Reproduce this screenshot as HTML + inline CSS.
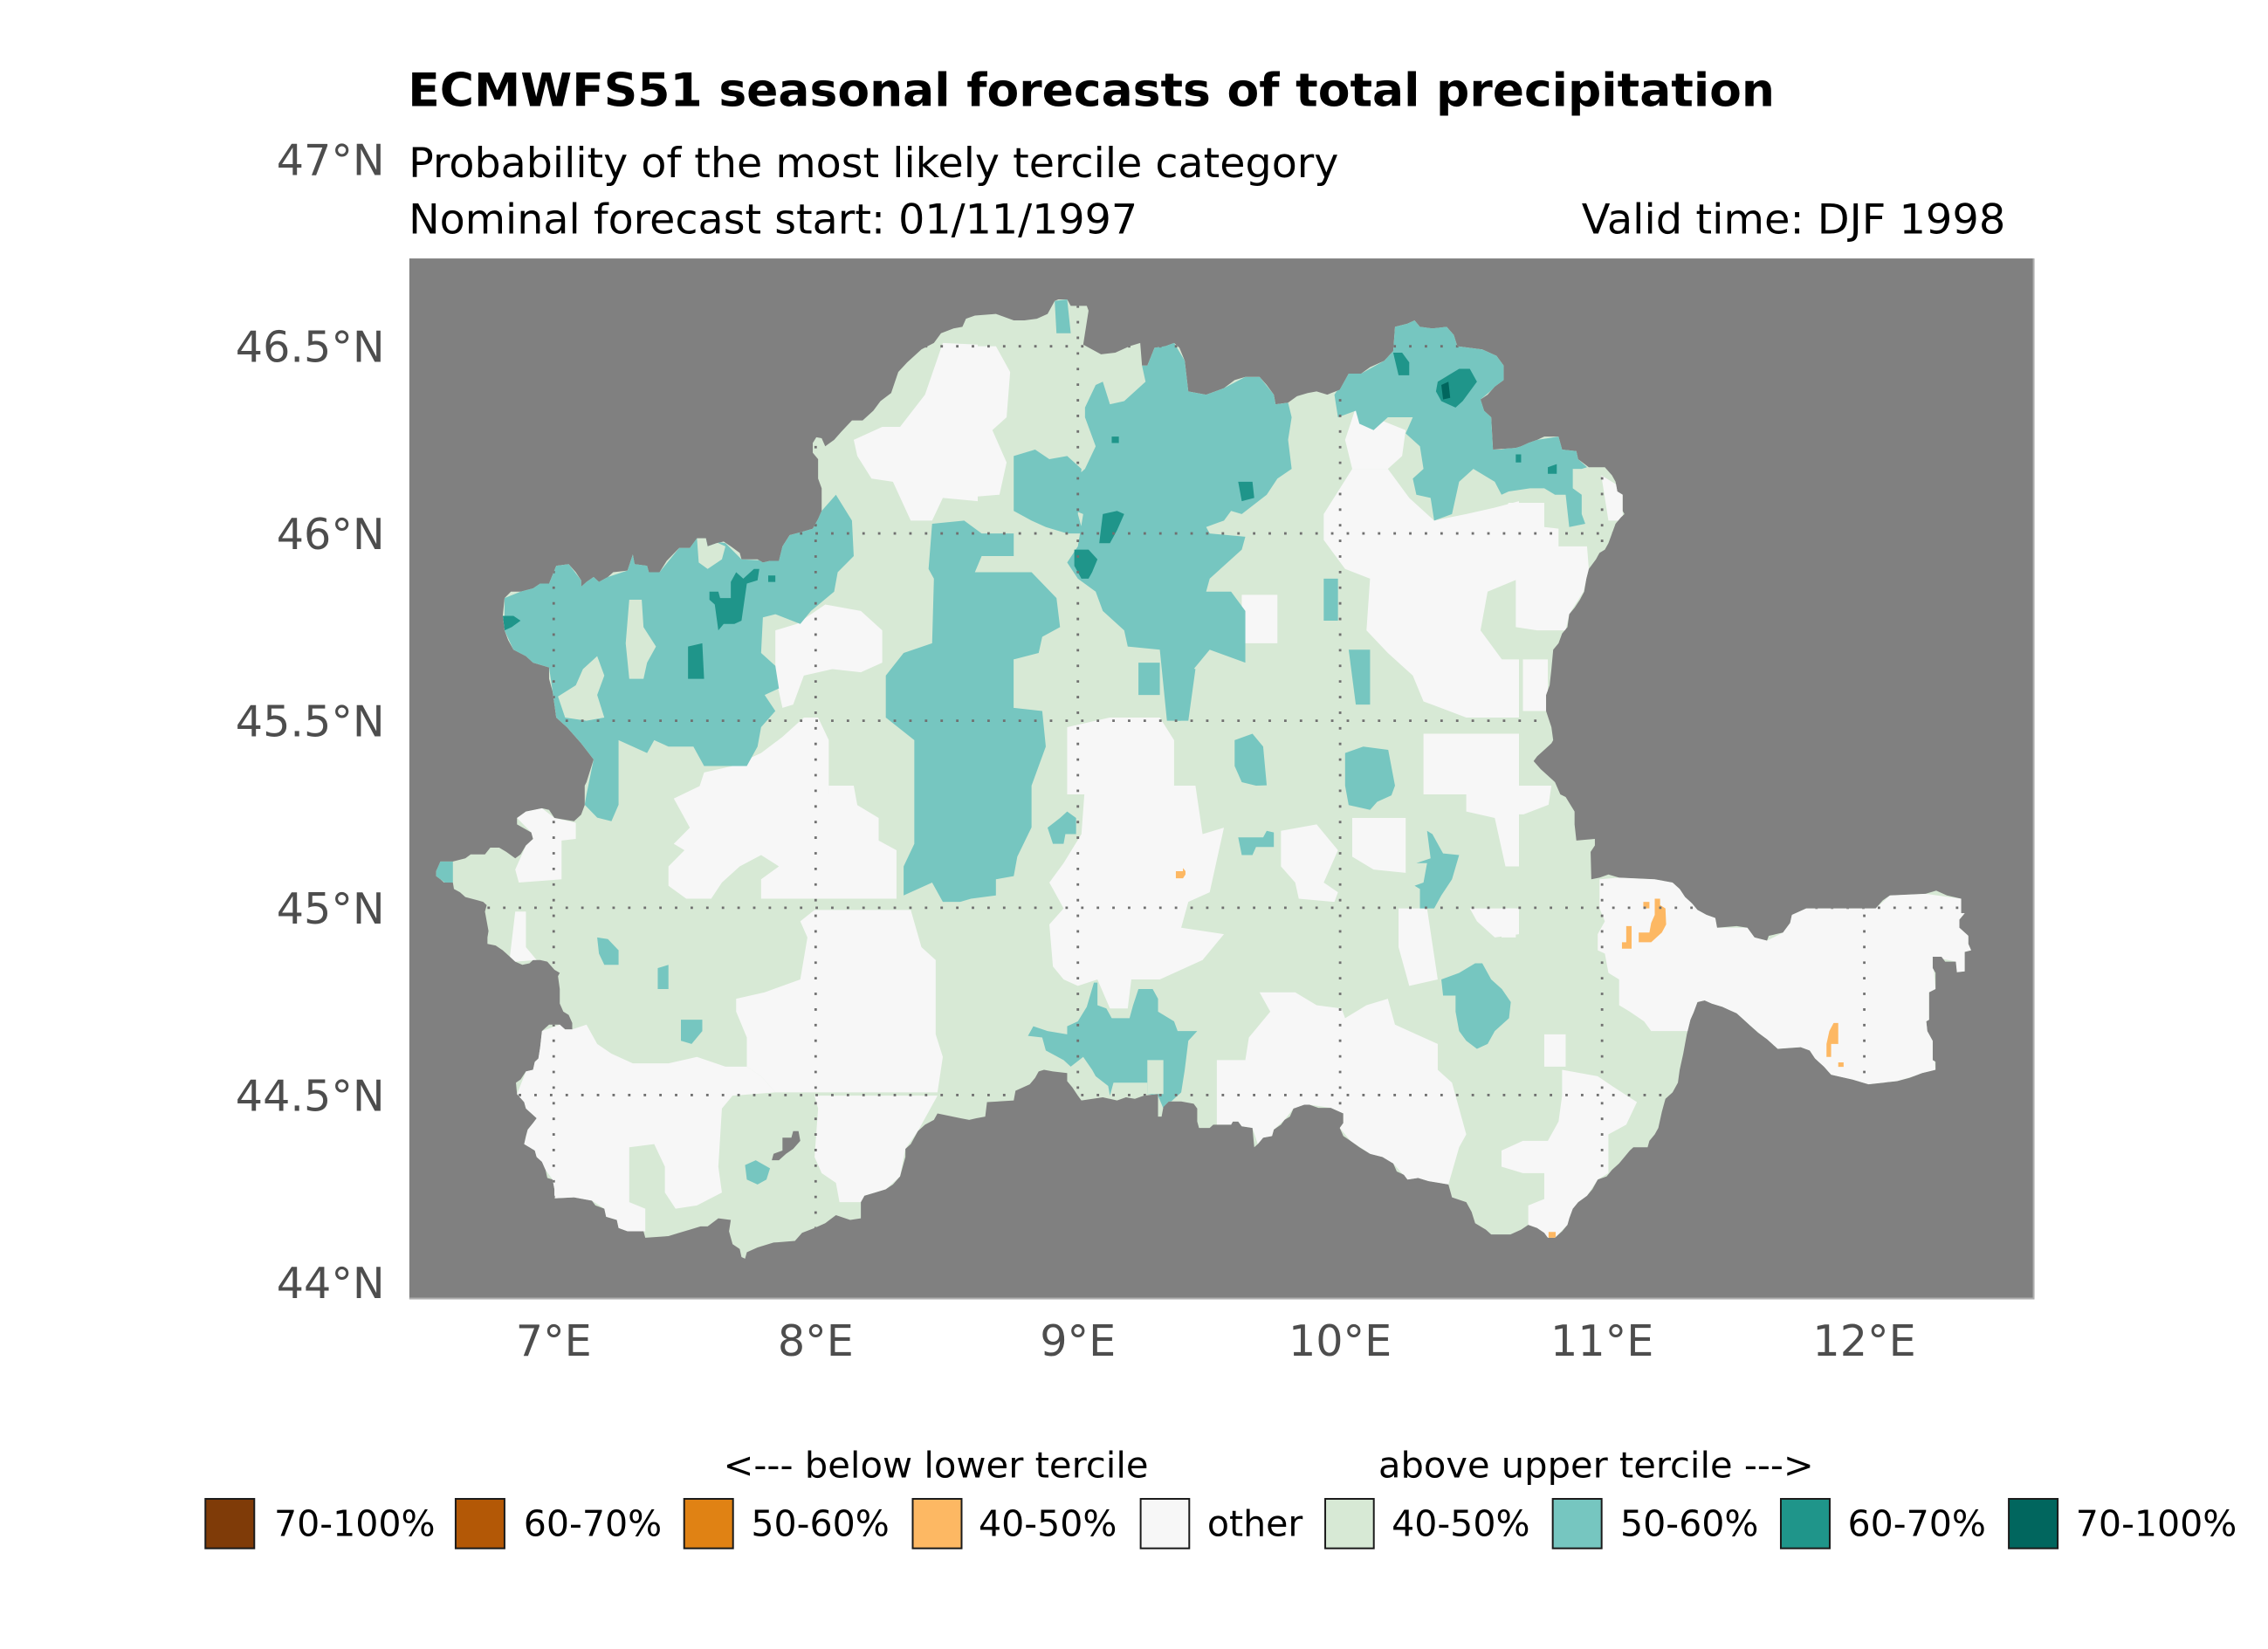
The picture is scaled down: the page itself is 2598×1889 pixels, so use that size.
<!DOCTYPE html>
<html><head><meta charset="utf-8"><style>
html,body{margin:0;padding:0;background:#fff;}
svg{display:block;}
text{font-family:"DejaVu Sans","Liberation Sans",sans-serif;}
</style></head><body>
<svg xmlns="http://www.w3.org/2000/svg" xmlns:xlink="http://www.w3.org/1999/xlink" width="2598" height="1889" viewBox="0 0 1568 1140.1" preserveAspectRatio="none">
<defs>
<polygon id="land" points="48,1806 60,1776 95,1776 130,1766 145,1754 185,1754 200,1733 225,1733 245,1746 270,1766 285,1754 300,1726 320,1706 315,1686 275,1661 275,1641 300,1621 345,1611 365,1616 380,1641 435,1651 455,1631 465,1601 465,1541 470,1530 490,1460 455,1410 415,1360 385,1330 375,1250 365,1210 365,1175 320,1160 300,1140 265,1120 250,1090 240,1060 235,1015 240,960 258,940 285,940 320,930 340,915 365,915 385,860 420,855 440,880 455,905 455,925 470,910 490,895 505,910 530,895 545,880 585,875 600,825 605,855 640,860 645,880 675,880 695,845 730,805 760,805 780,775 805,775 810,800 835,790 855,785 875,800 900,820 905,840 950,840 965,850 985,845 1010,845 1020,800 1040,765 1075,755 1105,745 1120,715 1130,690 1130,620 1120,590 1120,530 1105,510 1105,480 1115,462 1130,465 1140,490 1165,470 1185,445 1215,410 1245,410 1275,380 1295,350 1325,325 1345,260 1370,230 1410,190 1445,170 1465,140 1500,125 1525,120 1535,95 1560,85 1619,80 1669,100 1699,100 1734,95 1764,80 1784,40 1794,35 1819,35 1829,55 1874,55 1879,70 1864,175 1914,205 1954,200 1994,180 2024,170 2029,240 2044,240 2064,185 2094,180 2119,170 2134,185 2149,225 2159,320 2209,330 2259,310 2289,285 2319,275 2359,275 2379,300 2399,330 2404,360 2439,355 2464,335 2494,325 2519,320 2549,330 2584,315 2609,265 2644,265 2669,245 2709,225 2734,195 2739,120 2774,110 2794,100 2809,120 2844,125 2884,120 2904,145 2914,180 2984,190 3024,210 3044,240 3044,285 3019,305 2999,330 2979,345 2989,380 3009,400 3014,500 3078,495 3093,490 3113,480 3138,470 3158,460 3198,460 3208,500 3248,505 3253,530 3283,555 3328,555 3348,580 3358,600 3363,630 3378,640 3378,690 3383,700 3373,710 3358,730 3348,760 3338,790 3328,810 3313,820 3303,840 3283,870 3276,900 3270,940 3258,965 3243,990 3228,1010 3223,1050 3208,1070 3198,1100 3183,1120 3178,1180 3173,1230 3163,1260 3163,1310 3178,1360 3183,1400 3178,1410 3158,1430 3138,1450 3128,1465 3148,1490 3168,1510 3188,1530 3203,1568 3218,1576 3243,1621 3243,1661 3248,1711 3300,1706 3300,1726 3288,1746 3290,1831 3313,1826 3338,1816 3368,1826 3468,1831 3518,1841 3538,1861 3553,1886 3573,1906 3588,1926 3613,1941 3638,1951 3643,1981 3698,1976 3728,1981 3748,2011 3783,2021 3788,2006 3828,1996 3848,1966 3853,1941 3893,1921 4088,1921 4108,1896 4128,1881 4228,1876 4258,1866 4288,1881 4328,1891 4328,1936 4338,1936 4323,1956 4323,1981 4348,2006 4348,2031 4356,2051 4338,2056 4338,2116 4316,2119 4313,2086 4283,2086 4273,2071 4248,2071 4248,2106 4256,2121 4256,2171 4238,2181 4238,2266 4230,2271 4233,2301 4248,2331 4248,2391 4256,2396 4256,2421 4218,2431 4183,2446 4148,2456 4068,2466 4023,2451 3963,2436 3943,2411 3918,2386 3903,2361 3878,2351 3813,2356 3798,2341 3783,2326 3758,2306 3738,2286 3718,2266 3698,2246 3678,2236 3658,2226 3628,2216 3608,2206 3588,2211 3578,2241 3568,2266 3558,2311 3553,2341 3548,2371 3538,2421 3533,2461 3518,2491 3498,2511 3488,2551 3478,2601 3468,2621 3453,2641 3448,2661 3408,2661 3398,2671 3383,2691 3368,2711 3348,2731 3333,2751 3308,2761 3293,2791 3278,2811 3253,2831 3238,2851 3228,2881 3223,2901 3208,2921 3188,2941 3168,2941 3158,2926 3138,2911 3113,2901 3093,2916 3063,2931 3038,2931 3009,2931 2994,2916 2964,2896 2954,2861 2939,2831 2899,2816 2889,2776 2834,2766 2804,2756 2774,2761 2764,2746 2744,2736 2734,2711 2704,2691 2669,2681 2639,2661 2614,2641 2594,2626 2584,2601 2594,2586 2594,2556 2559,2539 2524,2539 2499,2529 2484,2529 2454,2541 2444,2566 2429,2576 2419,2591 2399,2606 2394,2626 2369,2631 2354,2651 2344,2661 2339,2601 2309,2596 2299,2581 2284,2581 2279,2591 2229,2591 2219,2601 2189,2601 2184,2581 2184,2541 2174,2526 2139,2519 2104,2519 2089,2536 2084,2566 2074,2566 2074,2496 2034,2501 2009,2511 1984,2506 1959,2516 1939,2511 1919,2506 1859,2516 1849,2501 1834,2476 1819,2456 1819,2431 1779,2426 1754,2421 1739,2426 1729,2446 1714,2466 1674,2486 1669,2516 1594,2521 1589,2566 1564,2571 1544,2576 1520,2571 1455,2556 1445,2576 1420,2591 1400,2611 1390,2631 1380,2651 1365,2666 1365,2691 1360,2711 1350,2751 1330,2776 1310,2791 1280,2801 1250,2811 1240,2831 1240,2881 1210,2886 1170,2871 1140,2896 1110,2911 1075,2926 1055,2951 995,2956 950,2971 920,2986 915,3006 905,3001 900,2976 880,2961 870,2921 875,2886 840,2881 810,2906 790,2906 760,2916 730,2926 700,2936 635,2941 630,2921 585,2921 560,2911 555,2886 525,2876 520,2851 495,2841 485,2826 435,2816 380,2819 380,2791 375,2761 360,2756 355,2731 345,2706 330,2691 325,2671 310,2661 295,2651 300,2626 305,2606 320,2586 330,2571 320,2561 300,2541 295,2521 275,2496 272,2461 285,2451 300,2426 320,2421 325,2396 335,2386 340,2351 345,2301 365,2281 395,2281 410,2296 430,2296 430,2276 420,2251 405,2241 395,2216 395,2171 390,2131 395,2121 380,2111 360,2086 340,2081 320,2081 310,2091 290,2096 270,2086 255,2071 235,2051 215,2036 192,2031 192,2011 195,1991 190,1961 185,1931 190,1911 180,1901 165,1896 130,1886 115,1871 98,1861 95,1841 70,1841 60,1831 48,1821"/>
<clipPath id="cz"><use xlink:href="#land" href="#land"/></clipPath>
<clipPath id="cd"><use xlink:href="#land" href="#land" transform="translate(289.70 199.17) scale(0.246344 0.223249)"/></clipPath>
<clipPath id="mapc"><rect x="283" y="178.7" width="1123.5" height="719.6"/></clipPath>
</defs>
<rect x="0" y="0" width="1568" height="1140.1" fill="#ffffff"/>

<!-- titles -->
<text x="282" y="73.4" font-size="31.5" font-weight="bold" fill="#000" textLength="945" lengthAdjust="spacingAndGlyphs">ECMWFS51 seasonal forecasts of total precipitation</text>
<text x="282.5" y="122.5" font-size="28.6" fill="#000" textLength="643" lengthAdjust="spacingAndGlyphs">Probability of the most likely tercile category</text>
<text x="282.5" y="161.5" font-size="28.6" fill="#000" textLength="504" lengthAdjust="spacingAndGlyphs">Nominal forecast start: 01/11/1997</text>
<text x="1093.5" y="161.5" font-size="28.6" fill="#000" textLength="293" lengthAdjust="spacingAndGlyphs">Valid time: DJF 1998</text>

<!-- map panel -->
<rect x="283" y="178.7" width="1123.5" height="719.6" fill="#808080"/>
<g clip-path="url(#mapc)">
<g transform="translate(289.70 199.17) scale(0.246344 0.223249)">
<use xlink:href="#land" href="#land" fill="#d7e9d5"/>
<g clip-path="url(#cz)">
<!-- white (other) -->
<g fill="#f7f7f7">
<polygon points="715,1581 790,1541 1220,1541 1230,1601 1290,1641 1290,1711 1340,1741 1340,1891 960,1891 960,1831 1010,1791 960,1756 900,1791 850,1841 820,1891 750,1891 700,1851 700,1791 745,1741 715,1721 760,1671 740,1631"/>
<polygon points="780,1568 800,1500 880,1480 960,1440 1020,1390 1080,1330 1120,1330 1150,1400 1150,1568"/>
<polygon points="1110,1926 1380,1926 1410,2041 1450,2081 1450,2311 1470,2381 1455,2491 1000,2491 960,2441 920,2411 920,2321 890,2241 890,2201 970,2181 1070,2141 1090,2011 1070,1961"/>
<polygon points="275,2496 300,2426 330,2391 345,2301 395,2281 430,2296 470,2281 500,2341 540,2371 600,2401 700,2401 780,2381 860,2411 920,2411 960,2441 1000,2491 880,2501 850,2541 840,2721 850,2801 780,2841 720,2851 690,2801 690,2721 660,2651 590,2661 590,2831 635,2851 635,2921 585,2921 560,2911 555,2886 525,2876 520,2851 485,2826 380,2819 375,2761 355,2731 330,2691 295,2651 305,2606 330,2571 300,2541"/>
<polygon points="1110,2501 1455,2501 1420,2571 1400,2611 1365,2666 1350,2751 1310,2791 1250,2811 1240,2831 1180,2831 1170,2771 1130,2741 1110,2691 1120,2541"/>
<polygon points="275,1641 300,1621 345,1611 380,1641 440,1656 440,1706 400,1711 400,1831 280,1841 270,1801 300,1726 320,1706 315,1686"/>
<polygon points="270,1931 300,1931 300,2041 330,2081 270,2086 255,2071"/>
<polygon points="1869,1541 2179,1541 2199,1691 2259,1671 2219,1871 2159,1901 2139,1981 2259,2001 2199,2081 2079,2141 1999,2141 1989,2231 1939,2231 1904,2141 1849,2161 1809,2141 1779,2101 1769,1971 1809,1921 1769,1841 1809,1781 1859,1691"/>
<polygon points="1819,1360 1939,1330 2079,1330 2119,1400 2119,1568 1819,1568"/>
<polygon points="2239,2391 2319,2391 2329,2321 2389,2241 2359,2181 2459,2181 2519,2221 2589,2231 2599,2261 2659,2221 2719,2201 2739,2281 2799,2311 2859,2341 2859,2421 2899,2461 2919,2541 2939,2621 2919,2661 2889,2776 2834,2766 2774,2761 2734,2711 2669,2681 2614,2641 2584,2601 2594,2556 2559,2539 2499,2529 2454,2541 2429,2576 2399,2606 2394,2626 2354,2651 2339,2601 2309,2596 2279,2591 2239,2591 2239,2501"/>
<polygon points="2419,1681 2519,1661 2579,1741 2539,1841 2579,1871 2569,1901 2469,1891 2459,1841 2419,1791"/>
<polygon points="2619,1641 2769,1641 2769,1811 2679,1801 2619,1761"/>
<polygon points="2749,1921 2829,1921 2859,2141 2779,2161 2749,2041"/>
<polygon points="2939,1541 3087,1541 3087,1791 3049,1791 3019,1641 2939,1621"/>
<polygon points="2949,1921 3087,1921 3087,2001 3019,2011 2969,1961"/>
<polygon points="3313,1831 3368,1826 3468,1831 3518,1841 3538,1861 3588,1926 3638,1951 3643,1981 3728,1981 3748,2011 3783,2021 3828,1996 3853,1941 3893,1921 4088,1921 4128,1881 4228,1876 4328,1891 4338,1936 4323,1956 4348,2006 4356,2051 4338,2056 4338,2116 4316,2119 4313,2086 4248,2071 4256,2171 4238,2181 4238,2266 4233,2301 4248,2331 4256,2421 4148,2456 4068,2466 3963,2436 3918,2386 3878,2351 3813,2356 3738,2286 3658,2226 3588,2211 3578,2241 3568,2301 3458,2301 3438,2271 3398,2241 3368,2221 3368,2141 3338,2121 3328,2061 3308,2051 3308,2001 3328,1961 3313,1921"/>
<polygon points="3208,2421 3308,2441 3348,2471 3418,2521 3388,2591 3338,2621 3338,2741 3308,2761 3278,2811 3238,2851 3223,2901 3188,2941 3168,2941 3138,2911 3113,2901 3113,2841 3158,2821 3158,2741 3098,2741 3038,2721 3038,2671 3098,2641 3168,2641 3198,2581 3208,2501"/>
<polygon points="3038,1541 3178,1541 3170,1600 3100,1630 3038,1630"/>
<polygon points="3038,1921 3078,1921 3078,2011 3038,2011"/>
<polygon points="3158,2311 3218,2311 3218,2411 3158,2411"/>
<polygon points="3058,665 3158,665 3158,740 3198,745 3198,800 3278,800 3283,870 3268,940 3228,1010 3218,1060 3138,1060 3078,1050 3078,900 3038,900 3038,700"/>
<polygon points="3318,580 3378,620 3378,720 3338,720"/>
<polygon points="3098,1150 3168,1150 3168,1310 3098,1310"/>
<polygon points="1519,180 1619,180 1659,260 1649,400 1609,440 1649,540 1629,640 1519,650"/>
<polygon points="1220,470 1300,430 1350,430 1420,330 1470,170 1568,175 1568,660 1470,650 1440,720 1380,720 1330,600 1270,590 1230,520"/>
<polygon points="2539,700 2619,560 2719,560 2779,650 2849,720 2939,700 3019,680 3087,660 3087,900 2999,940 2979,1060 3039,1150 3087,1150 3087,1330 2939,1330 2819,1280 2789,1200 2719,1130 2659,1060 2669,900 2599,870 2539,780"/>
<polygon points="2629,370 2679,400 2769,440 2759,520 2719,560 2619,560 2599,470"/>
<polygon points="2309,950 2409,950 2409,1100 2309,1100"/>
<polygon points="2819,1380 3087,1380 3087,1568 2819,1568"/>
<polygon points="1000,1060 1060,1040 1140,980 1240,1000 1300,1060 1300,1160 1240,1190 1160,1180 1080,1200 1050,1290 1020,1300 1000,1200"/>
</g>
<!-- teal 50-60% -->
<g fill="#76c6c0">
<polygon points="240,960 285,940 340,915 365,915 385,860 420,855 455,905 490,895 530,895 585,875 600,825 640,860 675,880 730,805 780,775 860,790 905,840 985,845 1020,800 1040,765 1105,745 1130,690 1170,640 1215,720 1220,830 1175,880 1165,940 1100,1000 1070,1040 1000,1010 965,1020 960,1130 1000,1170 1010,1240 970,1260 1000,1310 960,1360 950,1420 920,1480 800,1480 770,1420 700,1420 660,1400 640,1440 560,1400 560,1600 540,1651 500,1640 465,1600 470,1568 490,1460 455,1410 415,1360 385,1330 375,1250 365,1175 320,1160 265,1120 240,1060"/>
<polygon points="1440,730 1530,720 1579,760 1579,830 1560,880 1719,880 1789,960 1799,1050 1749,1080 1739,1130 1669,1150 1669,1300 1749,1310 1759,1420 1719,1541 1719,1670 1679,1761 1669,1821 1619,1831 1619,1881 1549,1891 1519,1901 1470,1901 1440,1841 1400,1861 1360,1881 1360,1791 1390,1721 1390,1541 1390,1400 1310,1330 1310,1200 1360,1130 1440,1100 1445,900 1430,870"/>
<polygon points="2029,240 2044,240 2064,185 2119,170 2149,225 2159,320 2209,330 2259,310 2319,275 2359,275 2399,330 2404,360 2439,355 2449,400 2439,470 2449,560 2409,590 2379,640 2309,700 2279,690 2259,720 2209,740 2219,760 2319,770 2309,810 2219,900 2209,940 2279,940 2319,1000 2319,1160 2219,1120 2159,1200 2139,1340 2099,1340 2079,1120 1989,1110 1979,1060 1919,1000 1899,940 1849,900 1819,850 1849,800 1864,700 1819,680 1779,640 1829,600 1869,560 1899,490 1869,400 1869,370 1899,300 1919,290 1939,360 1979,350 2039,290"/>
<polygon points="1669,520 1729,500 1769,530 1819,520 1859,560 1849,700 1864,760 1819,760 1759,740 1719,720 1669,690"/>
<polygon points="1519,760 1669,760 1669,830 1519,830"/>
<polygon points="1784,40 1819,35 1829,140 1789,140"/>
<polygon points="2609,265 2644,265 2709,225 2734,195 2739,120 2774,110 2794,100 2809,120 2884,120 2904,145 2914,180 2984,190 3024,210 3044,240 3044,285 2979,345 3009,400 3014,500 3038,500 3138,470 3198,460 3248,505 3253,530 3278,555 3263,560 3238,560 3238,620 3263,640 3263,700 3273,730 3228,740 3218,640 3188,640 3158,620 3118,620 3058,630 3038,640 3019,600 2959,560 2919,600 2899,700 2849,720 2839,650 2799,640 2789,590 2819,560 2809,490 2769,450 2789,400 2719,400 2679,440 2639,420 2629,380 2579,400 2569,330"/>
<polygon points="1894,2151 1904,2151 1904,2221 1929,2231 1944,2261 1994,2261 2004,2221 2019,2171 2059,2171 2074,2201 2074,2241 2119,2271 2129,2301 2184,2301 2159,2331 2149,2421 2139,2491 2089,2541 2074,2501 2044,2496 2044,2461 1949,2461 1939,2501 1934,2471 1899,2441 1889,2421 1864,2381 1829,2411 1809,2391 1759,2361 1749,2321 1709,2316 1724,2286 1764,2301 1819,2311 1819,2286 1849,2271 1874,2226"/>
<polygon points="2869,2141 2919,2121 2964,2091 2984,2091 3009,2141 3039,2171 3064,2211 3059,2261 3019,2301 2999,2341 2969,2356 2939,2331 2919,2301 2909,2241 2909,2191 2874,2191"/>
<polygon points="2829,1681 2844,1691 2859,1721 2874,1751 2919,1756 2899,1831 2869,1881 2849,1921 2809,1921 2809,1861 2794,1851 2819,1841 2829,1781 2799,1781 2839,1766"/>
<polygon points="2599,1440 2650,1420 2720,1430 2739,1541 2729,1571 2689,1591 2669,1616 2649,1611 2609,1601 2599,1541"/>
<polygon points="2609,1120 2669,1120 2669,1290 2629,1290"/>
<polygon points="2289,1400 2339,1380 2369,1420 2379,1540 2349,1541 2309,1530 2289,1480"/>
<polygon points="2299,1701 2369,1701 2379,1681 2399,1686 2399,1731 2349,1731 2339,1756 2309,1756"/>
<polygon points="1764,1671 1799,1641 1819,1621 1844,1641 1844,1691 1814,1691 1809,1721 1779,1721"/>
<polygon points="2539,900 2579,900 2579,1030 2539,1030"/>
<polygon points="2019,1160 2079,1160 2079,1260 2019,1260"/>
<polygon points="2119,1160 2179,1180 2159,1340 2119,1340"/>
<polygon points="500,2011 530,2016 560,2051 560,2096 520,2096 505,2061"/>
<polygon points="670,2106 700,2096 700,2171 670,2171"/>
<polygon points="735,2266 795,2266 795,2301 765,2341 735,2331"/>
<polygon points="915,2716 945,2701 985,2726 975,2761 950,2776 920,2761"/>
<polygon points="40,1776 95,1776 95,1861 60,1831 40,1821"/>
</g>
<!-- light green holes inside teal -->
<g fill="#d7e9d5">
<polygon points="590,965 625,965 630,1050 665,1110 640,1160 630,1210 590,1210 580,1100"/>
<polygon points="390,1265 440,1230 460,1180 500,1140 520,1200 500,1260 520,1330 470,1340 410,1330"/>
<polygon points="780,775 810,775 860,800 850,840 810,870 785,850"/>
<polygon points="2044,2391 2089,2391 2089,2496 2044,2496"/>
<polygon points="1669,1150 1739,1150 1739,1300 1669,1300"/>
</g>
<!-- teal 60-70% -->
<g fill="#1f958a">
<polygon points="815,940 840,940 845,960 875,960 875,910 890,880 910,900 940,870 955,870 950,905 920,915 905,1030 885,1040 855,1040 840,1060 830,980 815,965"/>
<polygon points="755,1110 795,1100 800,1210 755,1210"/>
<polygon points="235,1015 265,1015 285,1030 260,1050 240,1060"/>
<polygon points="980,890 1000,890 1000,910 980,910"/>
<polygon points="1919,700 1959,690 1979,700 1959,750 1939,790 1909,790"/>
<polygon points="1839,810 1879,810 1904,840 1889,880 1879,900 1859,900 1839,860"/>
<polygon points="2299,600 2339,600 2344,650 2309,660"/>
<polygon points="2734,200 2759,200 2779,230 2779,270 2749,270"/>
<polygon points="2859,290 2889,270 2919,250 2949,250 2969,290 2929,350 2909,370 2869,350 2854,320"/>
<polygon points="3168,555 3193,545 3193,575 3168,575"/>
<polygon points="3078,515 3093,515 3093,540 3078,540"/>
<polygon points="1944,460 1964,460 1964,480 1944,480"/>
</g>
<polygon fill="#01665e" points="2869,300 2889,290 2894,340 2874,345"/>
<!-- orange 40-50% below -->
<g fill="#fdb863">
<polygon points="3436,1901 3453,1901 3453,1921 3436,1921"/>
<polygon points="3468,1891 3483,1891 3483,1911 3498,1921 3500,1971 3488,1996 3458,2026 3423,2026 3423,1996 3453,1996 3458,1966 3468,1941"/>
<polygon points="3388,1976 3403,1976 3403,2046 3376,2046 3376,2026 3388,2026"/>
<polygon points="3970,2276 3983,2276 3983,2341 3963,2341 3963,2381 3950,2381 3950,2341 3958,2301"/>
<polygon points="2124,1806 2144,1806 2144,1796 2151,1806 2151,1816 2144,1828 2124,1828"/>
<polygon points="3170,2923 3190,2923 3190,2943 3170,2943"/>
<polygon points="3983,2398 3998,2398 3998,2412 3983,2412"/>
</g>
<!-- inland water -->
<polygon fill="#808080" points="1020,2631 1045,2631 1050,2611 1065,2611 1070,2641 1050,2666 1030,2681 1010,2701 990,2701 995,2681 1020,2671"/>
</g>
</g>
<!-- gridlines over land -->
<g clip-path="url(#cd)" stroke="#707070" stroke-width="1.7" stroke-dasharray="1.7 9.1" fill="none">
<line x1="382.8" y1="178.7" x2="382.8" y2="898.3"/>
<line x1="563.9" y1="178.7" x2="563.9" y2="898.3"/>
<line x1="745.2" y1="178.7" x2="745.2" y2="898.3"/>
<line x1="926.5" y1="178.7" x2="926.5" y2="898.3"/>
<line x1="1107.6" y1="178.7" x2="1107.6" y2="898.3"/>
<line x1="1288.9" y1="178.7" x2="1288.9" y2="898.3"/>
<line x1="283" y1="239.4" x2="1406.5" y2="239.4"/>
<line x1="283" y1="368.8" x2="1406.5" y2="368.8"/>
<line x1="283" y1="498.3" x2="1406.5" y2="498.3"/>
<line x1="283" y1="627.6" x2="1406.5" y2="627.6"/>
<line x1="283" y1="757.1" x2="1406.5" y2="757.1"/>
</g>
</g>
<line x1="283" y1="897.7" x2="1406.5" y2="897.7" stroke="#b0b0b0" stroke-width="1.1"/>
<line x1="1405.9" y1="178.7" x2="1405.9" y2="898.3" stroke="#b0b0b0" stroke-width="1"/>

<!-- y tick labels -->
<g font-size="29.7" fill="#4d4d4d" text-anchor="end">
<text x="266" y="121">47°N</text>
<text x="266" y="250.3">46.5°N</text>
<text x="266" y="379.7">46°N</text>
<text x="266" y="509.2">45.5°N</text>
<text x="266" y="638.5">45°N</text>
<text x="266" y="768">44.5°N</text>
<text x="266" y="897.4">44°N</text>
</g>
<!-- x tick labels -->
<g font-size="29.7" fill="#4d4d4d" text-anchor="middle">
<text x="382.8" y="937.2">7°E</text>
<text x="563.9" y="937.2">8°E</text>
<text x="745.2" y="937.2">9°E</text>
<text x="926.5" y="937.2">10°E</text>
<text x="1107.6" y="937.2">11°E</text>
<text x="1288.9" y="937.2">12°E</text>
</g>

<!-- legend -->
<g font-size="24.8" fill="#000">
<text x="500" y="1021.5" textLength="294" lengthAdjust="spacingAndGlyphs">&lt;--- below lower tercile</text>
<text x="953" y="1021.5" textLength="301" lengthAdjust="spacingAndGlyphs">above upper tercile ---&gt;</text>
</g>
<g stroke="#1a1a1a" stroke-width="1.2">
<rect x="142" y="1036.3" width="33.8" height="34.2" fill="#7f3b08"/>
<rect x="315" y="1036.3" width="33.8" height="34.2" fill="#b35806"/>
<rect x="473" y="1036.3" width="33.8" height="34.2" fill="#e08214"/>
<rect x="631" y="1036.3" width="33.8" height="34.2" fill="#fdb863"/>
<rect x="788.6" y="1036.3" width="33.6" height="34.2" fill="#f7f7f7"/>
<rect x="916.2" y="1036.3" width="33.6" height="34.2" fill="#d7e9d5"/>
<rect x="1073.5" y="1036.3" width="33.8" height="34.2" fill="#76c6c0"/>
<rect x="1231.2" y="1036.3" width="33.8" height="34.2" fill="#1f958a"/>
<rect x="1388.8" y="1036.3" width="33.8" height="34.2" fill="#01665e"/>
</g>
<g font-size="24.8" fill="#000">
<text x="189.5" y="1062">70-100%</text>
<text x="362" y="1062">60-70%</text>
<text x="519.3" y="1062">50-60%</text>
<text x="676.6" y="1062">40-50%</text>
<text x="834.6" y="1062">other</text>
<text x="962.1" y="1062">40-50%</text>
<text x="1120.2" y="1062">50-60%</text>
<text x="1277.4" y="1062">60-70%</text>
<text x="1435.1" y="1062">70-100%</text>
</g>
</svg>
</body></html>
